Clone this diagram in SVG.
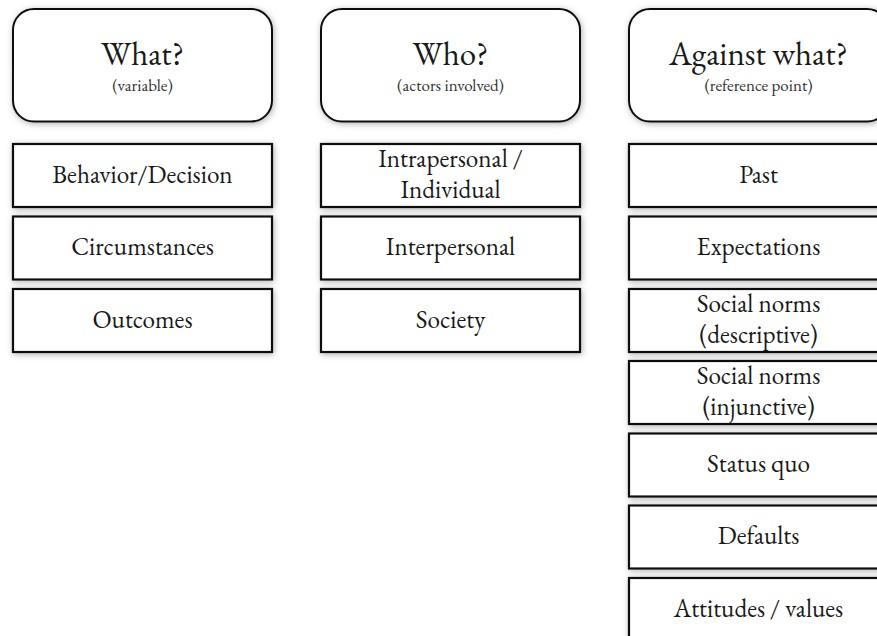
<svg xmlns="http://www.w3.org/2000/svg" width="877" height="636" viewBox="0 0 877 636">
<defs>
<filter id="sh" x="-10%" y="-20%" width="120%" height="140%">
<feDropShadow dx="1" dy="1.5" stdDeviation="3" flood-color="#000" flood-opacity="0.3"/>
</filter>
</defs>
<style>
.hd{fill:#fff;stroke:#111;stroke-width:2;filter:url(#sh)}
.bx{fill:#fff;stroke:#111;stroke-width:2.2;filter:url(#sh)}
text{font-family:"EB Garamond","Liberation Serif","Times New Roman",serif;fill:#1a1a1a;text-anchor:middle}
.t{font-size:33px}
.s{font-size:17px;fill:#333}
.b{font-size:25.2px}
</style>
<rect width="877" height="636" fill="#fff"/>
<g id="connectors"/>
<g id="what">
<rect class="hd" x="13" y="9" width="259" height="112.5" rx="21"/>
<text class="t" x="142.5" y="65">What?</text>
<text class="s" x="142.5" y="91">(variable)</text>
</g>
<g id="who">
<rect class="hd" x="321" y="9" width="259" height="112.5" rx="21"/>
<text class="t" x="450.5" y="65">Who?</text>
<text class="s" x="450.5" y="91">(actors involved)</text>
</g>
<g id="against">
<rect class="hd" x="629" y="9" width="259" height="112.5" rx="21"/>
<text class="t" x="758.5" y="65">Against what?</text>
<text class="s" x="758.5" y="91">(reference point)</text>
</g>
<g id="behavior"><rect class="bx" x="13" y="144" width="259" height="63"/><text class="b" x="142.5" y="182.5">Behavior/Decision</text></g>
<g id="circumstances"><rect class="bx" x="13" y="216.5" width="259" height="63"/><text class="b" x="142.5" y="255">Circumstances</text></g>
<g id="outcomes"><rect class="bx" x="13" y="289" width="259" height="63"/><text class="b" x="142.5" y="327.5">Outcomes</text></g>
<g id="intrapersonal"><rect class="bx" x="321" y="144" width="259" height="63"/><text class="b" x="450.5" y="167">Intrapersonal /</text><text class="b" x="450.5" y="198">Individual</text></g>
<g id="interpersonal"><rect class="bx" x="321" y="216.5" width="259" height="63"/><text class="b" x="450.5" y="255">Interpersonal</text></g>
<g id="society"><rect class="bx" x="321" y="289" width="259" height="63"/><text class="b" x="450.5" y="327.5">Society</text></g>
<g id="past"><rect class="bx" x="629" y="144" width="259" height="63"/><text class="b" x="758.5" y="182.5">Past</text></g>
<g id="expectations"><rect class="bx" x="629" y="216.5" width="259" height="63"/><text class="b" x="758.5" y="255">Expectations</text></g>
<g id="descriptive"><rect class="bx" x="629" y="289" width="259" height="63"/><text class="b" x="758.5" y="312">Social norms</text><text class="b" x="758.5" y="343">(descriptive)</text></g>
<g id="injunctive"><rect class="bx" x="629" y="361" width="259" height="63"/><text class="b" x="758.5" y="384">Social norms</text><text class="b" x="758.5" y="415">(injunctive)</text></g>
<g id="statusquo"><rect class="bx" x="629" y="433.5" width="259" height="63"/><text class="b" x="758.5" y="472">Status quo</text></g>
<g id="defaults"><rect class="bx" x="629" y="505.5" width="259" height="63"/><text class="b" x="758.5" y="544">Defaults</text></g>
<g id="attitudes"><rect class="bx" x="629" y="578" width="259" height="63"/><text class="b" x="758.5" y="616.5">Attitudes / values</text></g>
</svg>
